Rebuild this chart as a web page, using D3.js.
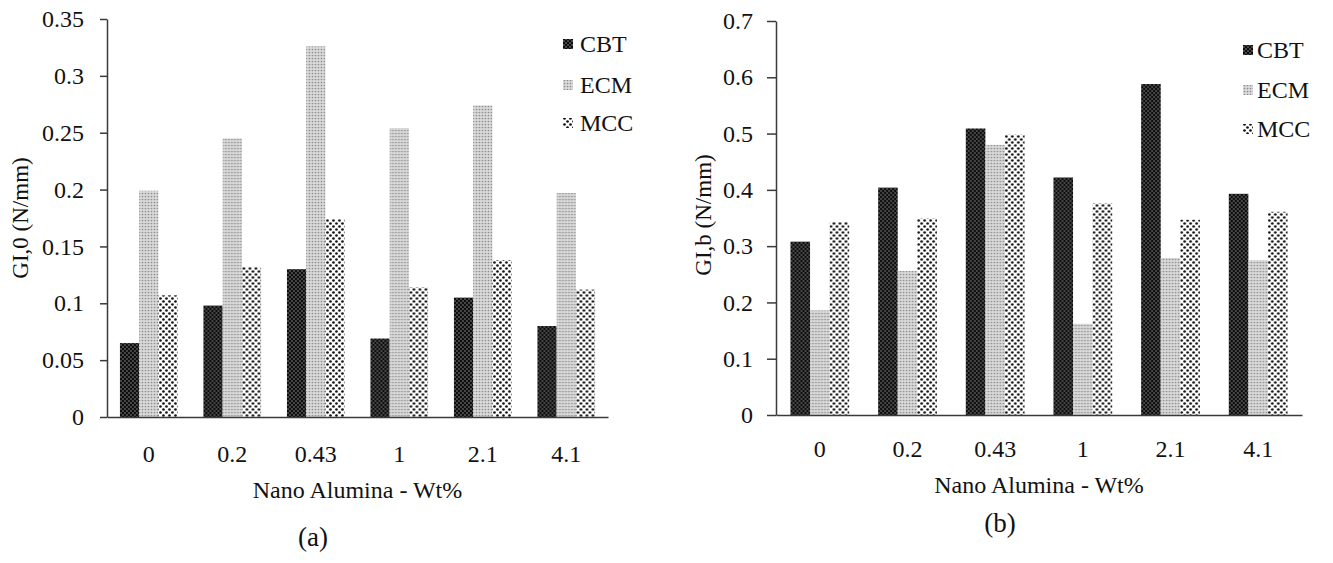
<!DOCTYPE html>
<html>
<head>
<meta charset="utf-8">
<script src="https://cdn.jsdelivr.net/npm/d3@7"></script>
<style>
  html, body { margin: 0; padding: 0; background: #fff; }
  svg { display: block; }
  text { font-family: "Liberation Serif", "DejaVu Serif", serif; fill: #111; }
</style>
</head>
<body>
<svg id="chart" width="1333" height="563"></svg>
<script>
// Nano alumina content (wt%) on the category axis
const categories = ["0", "0.2", "0.43", "1", "2.1", "4.1"];
const seriesNames = ["CBT", "ECM", "MCC"];

// Panel (a): GI,0 (N/mm)
const cbtA = [0.065, 0.098, 0.130, 0.069, 0.105, 0.080];
const ecmA = [0.199, 0.245, 0.326, 0.254, 0.274, 0.197];
const mccA = [0.107, 0.132, 0.174, 0.114, 0.138, 0.112];
const ticksA = [0, 0.05, 0.1, 0.15, 0.2, 0.25, 0.3, 0.35];

// Panel (b): GI,b (N/mm)
const cbtB = [0.308, 0.404, 0.509, 0.422, 0.588, 0.393];
const ecmB = [0.186, 0.256, 0.480, 0.162, 0.279, 0.275];
const mccB = [0.343, 0.349, 0.498, 0.376, 0.347, 0.361];
const ticksB = [0, 0.1, 0.2, 0.3, 0.4, 0.5, 0.6, 0.7];

const svg = d3.select("#chart");
const defs = svg.append("defs");

// Fill patterns: dark dotted, fine grey stipple, coarse black dots
function makePatterns() {
  const cbt = defs.append("pattern").attr("id", "pat-CBT")
    .attr("patternUnits", "userSpaceOnUse").attr("width", 4).attr("height", 4);
  cbt.append("rect").attr("width", 4).attr("height", 4).attr("fill", "#0d0d0d");
  cbt.append("circle").attr("cx", 1).attr("cy", 1).attr("r", 0.75).attr("fill", "#9a9a9a");
  cbt.append("circle").attr("cx", 3).attr("cy", 3).attr("r", 0.75).attr("fill", "#9a9a9a");

  const ecm = defs.append("pattern").attr("id", "pat-ECM")
    .attr("patternUnits", "userSpaceOnUse").attr("width", 3).attr("height", 3);
  ecm.append("rect").attr("width", 3).attr("height", 3).attr("fill", "#dadada");
  ecm.append("circle").attr("cx", 1.5).attr("cy", 1.5).attr("r", 0.85).attr("fill", "#8c8c8c");

  const mcc = defs.append("pattern").attr("id", "pat-MCC")
    .attr("patternUnits", "userSpaceOnUse").attr("width", 6).attr("height", 6);
  mcc.append("rect").attr("width", 6).attr("height", 6).attr("fill", "#ffffff");
  mcc.append("circle").attr("cx", 1.5).attr("cy", 1.5).attr("r", 1.35).attr("fill", "#111");
  mcc.append("circle").attr("cx", 4.5).attr("cy", 4.5).attr("r", 1.35).attr("fill", "#111");
}
makePatterns();

const fmt = d => String(+d.toFixed(2));

function drawPanel(cfg) {
  const g = svg.append("g");
  const x = d3.scaleBand().domain(categories).range([cfg.x0, cfg.x1])
    .paddingInner(cfg.gap).paddingOuter(cfg.gap / 2);
  const xs = d3.scaleBand().domain(seriesNames).range([0, x.bandwidth()]);
  const y = d3.scaleLinear().domain([0, cfg.ymax]).range([cfg.yBase, cfg.yTop]);

  const rows = categories.map((c, i) => ({
    cat: c,
    vals: seriesNames.map((s, k) => ({ s, v: cfg.series[k][i] }))
  }));

  const grp = g.selectAll("g.grp").data(rows).join("g")
    .attr("transform", d => `translate(${x(d.cat)},0)`);
  grp.selectAll("rect").data(d => d.vals).join("rect")
    .attr("x", d => xs(d.s))
    .attr("width", xs.bandwidth())
    .attr("y", d => y(d.v))
    .attr("height", d => y(0) - y(d.v))
    .attr("fill", d => `url(#pat-${d.s})`);

  // value axis
  const ya = g.append("g").attr("transform", `translate(${cfg.x0},0)`)
    .call(d3.axisLeft(y).tickValues(cfg.ticks).tickFormat(fmt)
      .tickSize(cfg.tick).tickSizeOuter(0).tickPadding(cfg.tickPad));
  ya.selectAll("text").style("font-size", "24px").style("font-family", "Liberation Serif");
  ya.selectAll("path, line").attr("stroke", "#3a3a3a").attr("stroke-width", 1.5);

  // category axis
  const xa = g.append("g").attr("transform", `translate(0,${cfg.yBase})`)
    .call(d3.axisBottom(x).tickSize(0).tickSizeOuter(0).tickPadding(cfg.xPad));
  xa.selectAll("text").style("font-size", "24px").style("font-family", "Liberation Serif");
  xa.select("path").attr("stroke", "#3a3a3a").attr("stroke-width", 1.5);

  g.append("text").attr("x", (cfg.x0 + cfg.x1) / 2).attr("y", cfg.xTitleY)
    .attr("text-anchor", "middle").style("font-size", "24px")
    .text("Nano Alumina - Wt%");

  g.append("text")
    .attr("transform", `translate(${cfg.yTitleX},${cfg.yTitleY}) rotate(-90)`)
    .attr("text-anchor", "middle").style("font-size", "23px")
    .text(cfg.yTitle);

  g.append("text").attr("x", cfg.capX).attr("y", cfg.capY)
    .attr("text-anchor", "middle").style("font-size", "27px")
    .text(cfg.caption);

  // legend
  const lg = g.selectAll("g.leg").data(seriesNames).join("g")
    .attr("transform", (d, i) => `translate(${cfg.legX},${cfg.legY[i]})`);
  lg.append("rect").attr("x", 0).attr("y", -5).attr("width", 10).attr("height", 10)
    .attr("fill", d => `url(#pat-${d})`);
  lg.append("text").attr("x", cfg.legTextDx).attr("y", 0).attr("dy", "0.35em")
    .style("font-size", "24px").text(d => d);
}

drawPanel({
  x0: 107, x1: 608, yBase: 417, yTop: 19, ymax: 0.35, ticks: ticksA,
  series: [cbtA, ecmA, mccA], gap: 0.31,
  tick: 7, tickPad: 16, xPad: 28, xTitleY: 498,
  yTitle: "GI,0 (N/mm)", yTitleX: 28, yTitleY: 218,
  caption: "(a)", capX: 313, capY: 546,
  legX: 563, legTextDx: 17, legY: [44, 85, 123]
});

drawPanel({
  x0: 776, x1: 1302, yBase: 415, yTop: 21, ymax: 0.7, ticks: ticksB,
  series: [cbtB, ecmB, mccB], gap: 0.33,
  tick: 9, tickPad: 14, xPad: 25, xTitleY: 493,
  yTitle: "GI,b (N/mm)", yTitleX: 711, yTitleY: 215,
  caption: "(b)", capX: 1000, capY: 532,
  legX: 1243, legTextDx: 14, legY: [50, 90, 129]
});
</script>
</body>
</html>
